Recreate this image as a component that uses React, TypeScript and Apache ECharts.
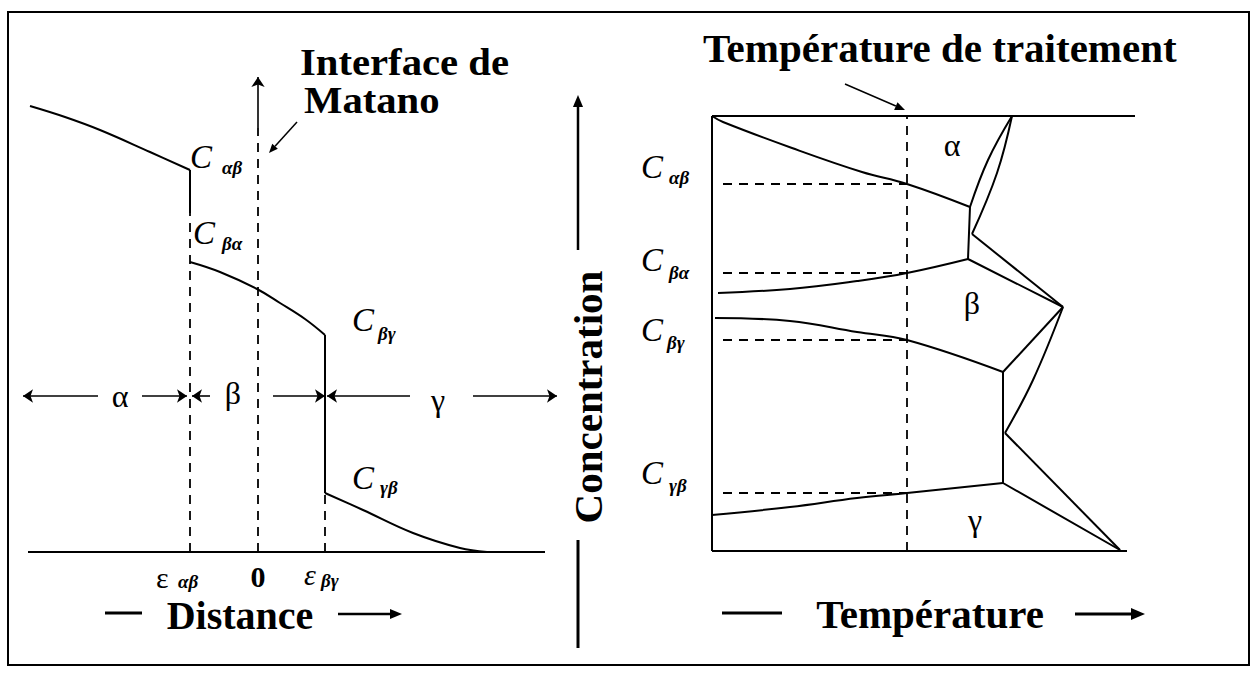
import React, { useEffect, useRef } from "react";
import * as echarts from "echarts";

// ---------- Left panel: concentration profile vs distance (0 = Matano interface) ----------
const alphaProfile = [[-22.8, 44.6], [-19.3, 43.5], [-15.8, 42.2], [-10.8, 40.0], [-6.8, 38.2]];
const alphaJump = [[-6.8, 38.2], [-6.8, 33.9]];
const betaProfile = [[-6.8, 29.0], [-3.8, 28.0], [-0.1, 26.3], [2.2, 24.9], [4.7, 23.3], [6.7, 21.7]];
const betaJump = [[6.7, 21.7], [6.7, 5.9]];
const gammaProfile = [[6.7, 5.9], [10.5, 4.2], [15.5, 1.9], [20.2, 0.4], [22.9, 0]];
const distanceBase = [[-23, 0], [28.7, 0]];
const matanoPlane = [[0, 0], [0, 42.4]];
const matanoArrow = [[0, 42.4], [0, 47.5]];
const epsAlphaBeta = [[-6.8, 0], [-6.8, 33.9]];
const epsBetaGamma = [[6.7, 0], [6.7, 5.9]];
const phaseRowLevel = 15.6;
const phaseArrows = [[-16.0, -23.5], [-11.6, -7.1], [-4.8, -6.6], [1.5, 6.7], [15.2, 6.9], [21.5, 29.9]];

// ---------- Right panel: phase diagram (temperature vs concentration) ----------
const diagramLeft = [[0, 0], [0, 43.5]];
const diagramTop = [[0, 43.5], [42.3, 43.5]];
const diagramBottom = [[0, 0], [41.5, 0]];
const alphaBoundary = [[0, 43.5], [1.1, 42.9], [8.0, 40.3], [15.0, 37.9], [19.5, 36.7], [25.8, 34.4]];
const lensLeft = [[25.8, 34.4], [27.6, 39.1], [30.0, 43.5]];
const lensRight = [[30.0, 43.5], [28.5, 37.8], [26.0, 31.7]];
const lensToPeak = [[26.0, 31.7], [35.1, 24.4]];
const alphaBetaJoin = [[25.8, 34.4], [25.6, 29.2], [35.1, 24.4]];
const betaAlphaBoundary = [[0.6, 25.8], [7.8, 26.2], [14.5, 27.0], [19.5, 27.8], [25.6, 29.2]];
const betaGammaBoundary = [[0.3, 23.3], [7.8, 23.0], [14.5, 21.9], [19.5, 21.1], [29.1, 17.9]];
const betaGammaPeak = [[29.1, 17.9], [35.1, 24.4]];
const betaPeakLower = [[35.1, 24.4], [32.1, 17.1], [29.3, 11.8]];
const gammaTipUpper = [[29.3, 11.8], [40.8, 0.1]];
const gammaBetaJoin = [[29.1, 17.9], [29.1, 6.8], [40.8, 0.1]];
const gammaBetaBoundary = [[0, 3.6], [7.8, 4.4], [14.5, 5.3], [19.5, 5.8], [29.1, 6.8]];
const treatmentTemp = 19.5;
const treatmentLine = [[treatmentTemp, 0], [treatmentTemp, 43.5]];
const tieLevels = [36.7, 27.8, 21.1, 5.8];
const tieStart = 1.1;

const FAMILY = '"Liberation Serif", "Times New Roman", serif';

function solid(name: string, data: number[][], grid: number, smooth: number | boolean = false) {
  return {
    type: "line", name, xAxisIndex: grid, yAxisIndex: grid, data, smooth,
    symbol: "none", silent: true, clip: false, z: 3,
    lineStyle: { color: "#000", width: 2 },
  };
}
function dashed(name: string, data: number[][], grid: number) {
  return {
    type: "line", name, xAxisIndex: grid, yAxisIndex: grid, data,
    symbol: "none", silent: true, clip: false, z: 2,
    lineStyle: { color: "#000", width: 1.8, type: [9, 7] },
  };
}

function arrow(x1: number, y1: number, x2: number, y2: number, head = 11, width = 2): any[] {
  const a = Math.atan2(y2 - y1, x2 - x1);
  const hx = x2 - head * Math.cos(a);
  const hy = y2 - head * Math.sin(a);
  const w = head * 0.42;
  return [
    { type: "line", shape: { x1, y1, x2: hx, y2: hy }, style: { stroke: "#000", lineWidth: width } },
    {
      type: "polygon",
      shape: { points: [[x2, y2], [hx + w * Math.sin(a), hy - w * Math.cos(a)], [hx - w * Math.sin(a), hy + w * Math.cos(a)]] },
      style: { fill: "#000" },
    },
  ];
}
function line(x1: number, y1: number, x2: number, y2: number, width = 2) {
  return { type: "line", shape: { x1, y1, x2, y2 }, style: { stroke: "#000", lineWidth: width } };
}
function txt(text: string, x: number, y: number, size: number, opt: any = {}) {
  const font = `${opt.style === "italic" ? "italic " : ""}${opt.weight === "bold" ? "bold " : ""}${size}px ${FAMILY}`;
  return {
    type: "text", x, y, rotation: opt.rotation || 0,
    scaleX: opt.scaleX || 1,
    style: {
      text, fill: "#000", font,
      lineHeight: opt.lineHeight || Math.round(size * 0.8),
      align: opt.align || "left", verticalAlign: "middle",
      textAlign: opt.align || "left", textVerticalAlign: "middle",
    },
  };
}
function cLabel(sub: string, x: number, y: number, sx: number, sy: number) {
  return [
    txt("C", x, y, 33, { style: "italic" }),
    txt(sub, sx, sy, 19, { style: "italic", weight: "bold" }),
  ];
}

export default function App() {
  const ref = useRef<HTMLDivElement>(null);
  useEffect(() => {
    if (!ref.current) return;
    const chart = echarts.init(ref.current, null, { renderer: "svg" });

    const series: any[] = [
      // left panel
      {
        ...solid("distanceBase", distanceBase, 0),
        markLine: {
          silent: true, symbol: ["none", "arrow"], symbolSize: 10,
          label: { show: false }, emphasis: { disabled: true },
          lineStyle: { color: "#000", width: 1.6, type: "solid" },
          data: [
            ...phaseArrows.map(([a, b]) => [{ coord: [a, phaseRowLevel] }, { coord: [b, phaseRowLevel] }]),
            [{ coord: matanoArrow[0] }, { coord: matanoArrow[1] }],
          ],
        },
      },
      solid("alphaProfile", alphaProfile, 0, 0.4),
      solid("alphaJump", alphaJump, 0),
      solid("betaProfile", betaProfile, 0, 0.4),
      solid("betaJump", betaJump, 0),
      solid("gammaProfile", gammaProfile, 0, 0.4),
      dashed("matanoPlane", matanoPlane, 0),
      dashed("epsAlphaBeta", epsAlphaBeta, 0),
      dashed("epsBetaGamma", epsBetaGamma, 0),
      // right panel
      solid("diagramLeft", diagramLeft, 1),
      solid("diagramTop", diagramTop, 1),
      solid("diagramBottom", diagramBottom, 1),
      solid("alphaBoundary", alphaBoundary, 1, 0.4),
      solid("lensLeft", lensLeft, 1, 0.4),
      solid("lensRight", lensRight, 1, 0.4),
      solid("lensToPeak", lensToPeak, 1),
      solid("alphaBetaJoin", alphaBetaJoin, 1),
      solid("betaAlphaBoundary", betaAlphaBoundary, 1, 0.4),
      solid("betaGammaBoundary", betaGammaBoundary, 1, 0.4),
      solid("betaGammaPeak", betaGammaPeak, 1),
      solid("betaPeakLower", betaPeakLower, 1, 0.4),
      solid("gammaTipUpper", gammaTipUpper, 1),
      solid("gammaBetaJoin", gammaBetaJoin, 1),
      solid("gammaBetaBoundary", gammaBetaBoundary, 1, 0.4),
      dashed("treatmentLine", treatmentLine, 1),
      ...tieLevels.map((v, i) => dashed("tie" + i, [[tieStart, v], [treatmentTemp, v]], 1)),
    ];

    const graphic: any[] = [
      { type: "rect", shape: { x: 8, y: 12, width: 1241, height: 653 }, style: { fill: "none", stroke: "#000", lineWidth: 2 } },
      // left titles
      txt("Interface de", 300, 62, 37, { weight: "bold", scaleX: 1.1 }),
      txt("Matano", 304, 100, 37, { weight: "bold", scaleX: 1.1 }),
      ...arrow(297, 122, 269, 153, 9, 1.5),
      ...cLabel("αβ", 190, 157, 222, 167),
      ...cLabel("βα", 193, 233, 222, 243),
      ...cLabel("βγ", 352, 320, 378, 333),
      ...cLabel("γβ", 352, 478, 380, 487),
      txt("α", 120, 396, 32, { align: "center" }),
      txt("β", 233, 393, 32, { align: "center" }),
      txt("γ", 438, 400, 32, { align: "center" }),
      txt("ε", 156, 577, 30),
      txt("αβ", 178, 581, 19, { style: "italic", weight: "bold" }),
      txt("0", 258, 576, 30, { align: "center", weight: "bold" }),
      txt("ε", 304, 574, 30, { style: "italic" }),
      txt("βγ", 321, 580, 19, { style: "italic", weight: "bold" }),
      line(105, 613, 142, 613, 3),
      txt("Distance", 240, 615, 40, { weight: "bold", align: "center" }),
      ...arrow(338, 614, 402, 614, 12, 2.5),
      // middle
      txt("Concentration", 588, 397, 41, { weight: "bold", align: "center", rotation: Math.PI / 2 }),
      ...arrow(578, 250, 578, 95, 12, 2.5),
      line(578, 540, 578, 648, 3),
      // right titles
      txt("Température de traitement", 703, 48, 41, { weight: "bold" }),
      ...arrow(845, 84, 905, 110, 10, 1.5),
      ...cLabel("αβ", 641, 167, 669, 177),
      ...cLabel("βα", 641, 260, 669, 272),
      ...cLabel("βγ", 641, 330, 667, 342),
      ...cLabel("γβ", 641, 473, 669, 485),
      txt("α", 952, 145, 32, { align: "center" }),
      txt("β", 972, 303, 32, { align: "center" }),
      txt("γ", 975, 520, 32, { align: "center" }),
      line(722, 613, 782, 613, 3),
      txt("Température", 930, 614, 41, { weight: "bold", align: "center" }),
      ...arrow(1075, 614, 1145, 614, 14, 3),
    ];

    chart.setOption({
      animation: false,
      backgroundColor: "#fff",
      grid: [
        { left: 20, right: 697, top: 52, bottom: 126 },
        { left: 712, right: 95, top: 101, bottom: 127 },
      ],
      xAxis: [
        { type: "value", gridIndex: 0, min: -23.8, max: 30.2, show: false },
        { type: "value", gridIndex: 1, min: 0, max: 45, show: false },
      ],
      yAxis: [
        { type: "value", gridIndex: 0, min: 0, max: 50, show: false },
        { type: "value", gridIndex: 1, min: 0, max: 45, show: false },
      ],
      series,
      graphic,
    });
    return () => chart.dispose();
  }, []);

  return (
    <div
      ref={ref}
      style={{ position: "absolute", left: 0, top: 0, width: 1257, height: 678, background: "#fff" }}
    />
  );
}
